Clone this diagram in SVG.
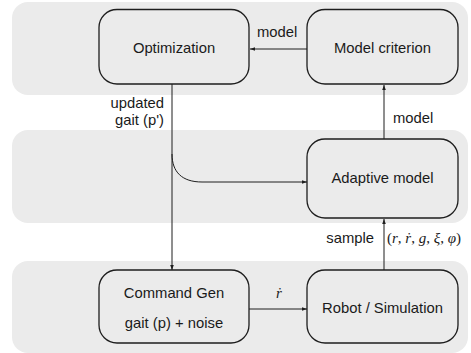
<svg xmlns="http://www.w3.org/2000/svg" width="471" height="353" viewBox="0 0 471 353">
<style>
.band{fill:#ebebeb;stroke:none}
.box{fill:#ebebeb;stroke:#1e1e1e;stroke-width:1.3}
.t{font-family:"Liberation Sans",Arial,sans-serif;font-size:14.8px;fill:#1a1a1a}
.m{font-family:"Liberation Serif","Times New Roman",serif;font-size:15px;fill:#1a1a1a}
.c{fill:none;stroke:#1e1e1e;stroke-width:1}
</style>
<defs>
<marker id="ah" viewBox="0 0 5 5" refX="5" refY="2.5" markerWidth="5" markerHeight="5" markerUnits="userSpaceOnUse" orient="auto">
<path d="M0,0.7 L5,2.5 L0,4.3 Z" fill="#1e1e1e"/>
</marker>
</defs>
<g id="bands">
<rect class="band" x="12" y="2" width="456" height="93" rx="16"/>
<rect class="band" x="12" y="130" width="456" height="93" rx="16"/>
<rect class="band" x="12" y="261" width="456" height="92" rx="16"/>
</g>
<g id="connectors">
<path class="c" d="M307,49 H250" marker-end="url(#ah)"/>
<path class="c" d="M172,84 V270" marker-end="url(#ah)"/>
<path class="c" d="M172,154 C172,172 182,182 202,182 H307" marker-end="url(#ah)"/>
<path class="c" d="M384,139 V85" marker-end="url(#ah)"/>
<path class="c" d="M384,270 V219" marker-end="url(#ah)"/>
<path class="c" d="M249,309 H307" marker-end="url(#ah)"/>
<text class="t" x="257" y="37">model</text>
<text class="t" x="164" y="108" text-anchor="end">updated</text>
<text class="t" x="164" y="125" text-anchor="end">gait (p')</text>
<text class="t" x="393" y="123">model</text>
<text class="t" x="374" y="243" text-anchor="end">sample</text>
<text class="m" x="387" y="243">(<tspan font-style="italic">r</tspan>, <tspan font-style="italic">ṙ</tspan>, <tspan font-style="italic">g</tspan>, <tspan font-style="italic">ξ</tspan>, <tspan font-style="italic">φ</tspan>)</text>
<text class="m" x="279" y="298" text-anchor="middle" font-style="italic">ṙ</text>
</g>
<g id="optimization">
<rect class="box" x="99" y="9.5" width="150" height="74.5" rx="18"/>
<text class="t" x="174" y="53" text-anchor="middle">Optimization</text>
</g>
<g id="model-criterion">
<rect class="box" x="307" y="9.5" width="151" height="74.5" rx="18"/>
<text class="t" x="382.5" y="53" text-anchor="middle">Model criterion</text>
</g>
<g id="adaptive-model">
<rect class="box" x="307" y="139" width="151" height="79" rx="18"/>
<text class="t" x="382.5" y="183" text-anchor="middle">Adaptive model</text>
</g>
<g id="command-gen">
<rect class="box" x="99" y="270" width="150" height="73" rx="18"/>
<text class="t" x="174" y="298" text-anchor="middle">Command Gen</text>
<text class="t" x="174" y="328" text-anchor="middle">gait (p) + noise</text>
</g>
<g id="robot">
<rect class="box" x="307" y="270" width="151" height="73" rx="18"/>
<text class="t" x="382.5" y="313" text-anchor="middle">Robot / Simulation</text>
</g>
</svg>
